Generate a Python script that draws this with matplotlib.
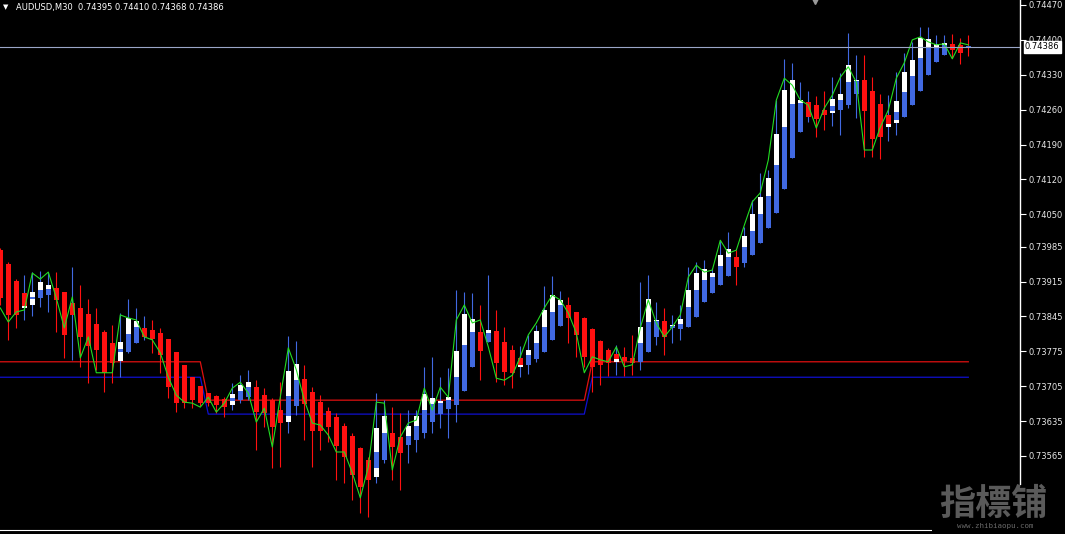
import numpy as np
import matplotlib.pyplot as plt

# AUDUSD M30 - heiken ashi bars over price candles
title = "AUDUSD,M30  0.74395 0.74410 0.74368 0.74386"
last_price = 0.74386

hi = [0.73982, 0.73954, 0.73920, 0.73928, 0.73934, 0.73936, 0.73934, 0.73934, 0.73894, 0.73944,
      0.73908, 0.73880, 0.73862, 0.73818, 0.73828, 0.73852, 0.73880, 0.73862, 0.73846, 0.73838,
      0.73822, 0.73800, 0.73774, 0.73748, 0.73723, 0.73705, 0.73691, 0.73687, 0.73683, 0.73711,
      0.73727, 0.73738, 0.73717, 0.73701, 0.73681, 0.73713, 0.73806, 0.73796, 0.73748, 0.73703,
      0.73687, 0.73663, 0.73651, 0.73631, 0.73611, 0.73583, 0.73563, 0.73691, 0.73677, 0.73663,
      0.73651, 0.73657, 0.73657, 0.73744, 0.73764, 0.73723, 0.73742, 0.73898, 0.73894, 0.73892,
      0.73868, 0.73928, 0.73858, 0.73824, 0.73788, 0.73786, 0.73808, 0.73828, 0.73906, 0.73926,
      0.73896, 0.73884, 0.73854, 0.73844, 0.73822, 0.73798, 0.73782, 0.73788, 0.73784, 0.73808,
      0.73914, 0.73928, 0.73874, 0.73862, 0.73848, 0.73868, 0.73944, 0.73954, 0.73958, 0.73942,
      0.73998, 0.74014, 0.73978, 0.74024, 0.74079, 0.74133, 0.74139, 0.74279, 0.74362, 0.74354,
      0.74315, 0.74297, 0.74287, 0.74297, 0.74325, 0.74334, 0.74414, 0.74370, 0.74370, 0.74325,
      0.74291, 0.74289, 0.74336, 0.74374, 0.74396, 0.74426, 0.74426, 0.74410, 0.74410, 0.74412,
      0.74404, 0.74410]

lo = [0.73868, 0.73798, 0.73822, 0.73838, 0.73846, 0.73864, 0.73854, 0.73814, 0.73762, 0.73758,
      0.73744, 0.73711, 0.73738, 0.73693, 0.73711, 0.73723, 0.73772, 0.73792, 0.73798, 0.73772,
      0.73732, 0.73681, 0.73653, 0.73661, 0.73661, 0.73665, 0.73665, 0.73651, 0.73643, 0.73657,
      0.73671, 0.73677, 0.73577, 0.73623, 0.73541, 0.73543, 0.73611, 0.73647, 0.73597, 0.73543,
      0.73577, 0.73593, 0.73517, 0.73511, 0.73477, 0.73451, 0.73443, 0.73511, 0.73551, 0.73517,
      0.73497, 0.73551, 0.73573, 0.73601, 0.73611, 0.73621, 0.73601, 0.73633, 0.73695, 0.73744,
      0.73717, 0.73794, 0.73713, 0.73707, 0.73701, 0.73723, 0.73730, 0.73754, 0.73774, 0.73798,
      0.73826, 0.73792, 0.73764, 0.73744, 0.73693, 0.73707, 0.73726, 0.73727, 0.73726, 0.73727,
      0.73738, 0.73774, 0.73788, 0.73768, 0.73792, 0.73798, 0.73824, 0.73844, 0.73874, 0.73892,
      0.73908, 0.73926, 0.73908, 0.73944, 0.73968, 0.73992, 0.74022, 0.74053, 0.74101, 0.74163,
      0.74215, 0.74235, 0.74205, 0.74219, 0.74227, 0.74209, 0.74263, 0.74243, 0.74165, 0.74165,
      0.74161, 0.74197, 0.74209, 0.74245, 0.74269, 0.74297, 0.74329, 0.74356, 0.74370, 0.74364,
      0.74352, 0.74368]

ha_open = [0.73978, 0.73950, 0.73916, 0.73892, 0.73880, 0.73882, 0.73888, 0.73902, 0.73894, 0.73872,
           0.73862, 0.73850, 0.73830, 0.73814, 0.73792, 0.73774, 0.73774, 0.73792, 0.73822, 0.73818,
           0.73812, 0.73800, 0.73774, 0.73748, 0.73723, 0.73705, 0.73691, 0.73685, 0.73679, 0.73675,
           0.73677, 0.73683, 0.73703, 0.73687, 0.73677, 0.73657, 0.73645, 0.73665, 0.73719, 0.73693,
           0.73673, 0.73655, 0.73643, 0.73625, 0.73605, 0.73581, 0.73557, 0.73541, 0.73557, 0.73611,
           0.73603, 0.73587, 0.73597, 0.73611, 0.73633, 0.73649, 0.73659, 0.73667, 0.73695, 0.73744,
           0.73814, 0.73794, 0.73816, 0.73794, 0.73778, 0.73762, 0.73748, 0.73760, 0.73774, 0.73798,
           0.73826, 0.73868, 0.73854, 0.73842, 0.73820, 0.73796, 0.73778, 0.73770, 0.73764, 0.73762,
           0.73754, 0.73774, 0.73804, 0.73836, 0.73822, 0.73820, 0.73824, 0.73844, 0.73874, 0.73892,
           0.73908, 0.73926, 0.73964, 0.73952, 0.73968, 0.73992, 0.74022, 0.74053, 0.74101, 0.74163,
           0.74215, 0.74275, 0.74269, 0.74259, 0.74257, 0.74259, 0.74269, 0.74291, 0.74319, 0.74297,
           0.74271, 0.74249, 0.74239, 0.74245, 0.74269, 0.74297, 0.74329, 0.74356, 0.74370, 0.74392,
           0.74390, 0.74384]

ha_close = [0.73882, 0.73848, 0.73848, 0.73866, 0.73884, 0.73898, 0.73900, 0.73878, 0.73808, 0.73848,
            0.73804, 0.73786, 0.73778, 0.73732, 0.73752, 0.73780, 0.73810, 0.73824, 0.73804, 0.73800,
            0.73768, 0.73703, 0.73671, 0.73671, 0.73677, 0.73671, 0.73671, 0.73667, 0.73663, 0.73681,
            0.73695, 0.73703, 0.73653, 0.73651, 0.73623, 0.73631, 0.73685, 0.73717, 0.73669, 0.73615,
            0.73615, 0.73623, 0.73585, 0.73563, 0.73527, 0.73503, 0.73517, 0.73573, 0.73611, 0.73583,
            0.73571, 0.73605, 0.73625, 0.73657, 0.73669, 0.73671, 0.73677, 0.73723, 0.73788, 0.73814,
            0.73776, 0.73812, 0.73752, 0.73734, 0.73732, 0.73748, 0.73768, 0.73792, 0.73824, 0.73854,
            0.73868, 0.73842, 0.73808, 0.73764, 0.73744, 0.73748, 0.73752, 0.73760, 0.73756, 0.73752,
            0.73792, 0.73834, 0.73836, 0.73804, 0.73826, 0.73830, 0.73864, 0.73898, 0.73918, 0.73924,
            0.73946, 0.73964, 0.73944, 0.73984, 0.74016, 0.74051, 0.74087, 0.74149, 0.74225, 0.74271,
            0.74273, 0.74245, 0.74241, 0.74249, 0.74267, 0.74279, 0.74315, 0.74317, 0.74257, 0.74201,
            0.74205, 0.74231, 0.74255, 0.74295, 0.74327, 0.74364, 0.74384, 0.74386, 0.74390, 0.74380,
            0.74374, 0.74388]

op = [0.73978, 0.73950, 0.73916, 0.73862, 0.73868, 0.73882, 0.73888, 0.73902, 0.73894, 0.73854,
      0.73862, 0.73850, 0.73830, 0.73814, 0.73792, 0.73756, 0.73774, 0.73792, 0.73806, 0.73818,
      0.73812, 0.73800, 0.73774, 0.73748, 0.73723, 0.73705, 0.73691, 0.73685, 0.73679, 0.73667,
      0.73677, 0.73683, 0.73703, 0.73687, 0.73677, 0.73657, 0.73633, 0.73665, 0.73719, 0.73693,
      0.73673, 0.73655, 0.73643, 0.73625, 0.73605, 0.73581, 0.73557, 0.73523, 0.73557, 0.73611,
      0.73603, 0.73587, 0.73597, 0.73611, 0.73633, 0.73649, 0.73659, 0.73667, 0.73695, 0.73744,
      0.73814, 0.73794, 0.73816, 0.73794, 0.73778, 0.73744, 0.73748, 0.73760, 0.73774, 0.73798,
      0.73826, 0.73868, 0.73854, 0.73842, 0.73820, 0.73796, 0.73778, 0.73754, 0.73764, 0.73762,
      0.73754, 0.73774, 0.73804, 0.73836, 0.73822, 0.73820, 0.73824, 0.73844, 0.73874, 0.73892,
      0.73908, 0.73926, 0.73964, 0.73952, 0.73968, 0.73992, 0.74022, 0.74053, 0.74101, 0.74163,
      0.74215, 0.74255, 0.74269, 0.74259, 0.74253, 0.74259, 0.74269, 0.74291, 0.74319, 0.74297,
      0.74271, 0.74225, 0.74233, 0.74245, 0.74269, 0.74297, 0.74329, 0.74356, 0.74370, 0.74392,
      0.74390, 0.74395]

cl = [0.73882, 0.73848, 0.73848, 0.73878, 0.73894, 0.73914, 0.73908, 0.73878, 0.73808, 0.73868,
      0.73804, 0.73786, 0.73778, 0.73732, 0.73752, 0.73794, 0.73842, 0.73836, 0.73818, 0.73800,
      0.73768, 0.73703, 0.73671, 0.73671, 0.73677, 0.73671, 0.73671, 0.73667, 0.73663, 0.73689,
      0.73707, 0.73713, 0.73653, 0.73651, 0.73623, 0.73631, 0.73736, 0.73750, 0.73669, 0.73615,
      0.73615, 0.73623, 0.73585, 0.73563, 0.73527, 0.73503, 0.73517, 0.73621, 0.73645, 0.73583,
      0.73571, 0.73625, 0.73645, 0.73689, 0.73681, 0.73675, 0.73683, 0.73776, 0.73850, 0.73840,
      0.73776, 0.73818, 0.73752, 0.73734, 0.73732, 0.73758, 0.73778, 0.73816, 0.73858, 0.73888,
      0.73878, 0.73842, 0.73808, 0.73764, 0.73744, 0.73748, 0.73752, 0.73766, 0.73756, 0.73752,
      0.73824, 0.73880, 0.73838, 0.73804, 0.73828, 0.73840, 0.73898, 0.73932, 0.73940, 0.73932,
      0.73968, 0.73980, 0.73944, 0.74006, 0.74051, 0.74085, 0.74123, 0.74211, 0.74299, 0.74319,
      0.74279, 0.74269, 0.74241, 0.74249, 0.74281, 0.74291, 0.74350, 0.74319, 0.74257, 0.74201,
      0.74205, 0.74243, 0.74277, 0.74336, 0.74360, 0.74404, 0.74402, 0.74392, 0.74394, 0.74380,
      0.74374, 0.74386]

zigzag = [0.73862, 0.73834, 0.73854, 0.73858, 0.73932, 0.73920, 0.73934, 0.73882, 0.73822, 0.73884,
          0.73762, 0.73804, 0.73732, 0.73732, 0.73732, 0.73848, 0.73842, 0.73838, 0.73804, 0.73798,
          0.73772, 0.73723, 0.73687, 0.73673, 0.73671, 0.73663, 0.73683, 0.73653, 0.73671, 0.73701,
          0.73713, 0.73691, 0.73633, 0.73661, 0.73583, 0.73683, 0.73782, 0.73738, 0.73677, 0.73631,
          0.73627, 0.73607, 0.73573, 0.73573, 0.73531, 0.73481, 0.73543, 0.73673, 0.73671, 0.73537,
          0.73603, 0.73631, 0.73637, 0.73701, 0.73657, 0.73703, 0.73683, 0.73838, 0.73868, 0.73832,
          0.73838, 0.73784, 0.73721, 0.73717, 0.73727, 0.73764, 0.73808, 0.73832, 0.73862, 0.73888,
          0.73878, 0.73852, 0.73812, 0.73732, 0.73764, 0.73758, 0.73754, 0.73784, 0.73744, 0.73748,
          0.73822, 0.73878, 0.73832, 0.73804, 0.73824, 0.73848, 0.73924, 0.73948, 0.73934, 0.73938,
          0.73998, 0.73972, 0.73978, 0.74028, 0.74075, 0.74093, 0.74159, 0.74279, 0.74323, 0.74309,
          0.74279, 0.74269, 0.74223, 0.74263, 0.74289, 0.74325, 0.74346, 0.74315, 0.74179, 0.74179,
          0.74225, 0.74259, 0.74323, 0.74354, 0.74400, 0.74406, 0.74396, 0.74390, 0.74392, 0.74362,
          0.74394, 0.74390]

# channel levels (upper red / lower blue), they step at bar 26 and bar 74
red_level = [0.73754] * 26 + [0.73677] * 48 + [0.73754] * 48
blue_level = [0.73723] * 26 + [0.73649] * 48 + [0.73723] * 48

price_ticks = [0.74470, 0.74400, 0.74330, 0.74260, 0.74190, 0.74120, 0.74050,
               0.73985, 0.73915, 0.73845, 0.73775, 0.73705, 0.73635, 0.73565]

W, H = 1065, 534
x = np.arange(len(hi))
hi, lo = np.array(hi), np.array(lo)
ha_open, ha_close = np.array(ha_open), np.array(ha_close)
op, cl = np.array(op), np.array(cl)

fig = plt.figure(figsize=(W / 100, H / 100), dpi=100)
fig.patch.set_facecolor('black')
ax = fig.add_axes([0, 0, 1020 / W, 1])
ax.set_facecolor('black')

px = 0.000020067  # price per pixel
ax.set_ylim(0.74480 - H * px, 0.74480)
ax.set_xlim(-0.3 / 8, 127.5 - 0.3 / 8)

RED = '#ff1010'
BLUE = '#4169e1'

# levels
ax.plot(x, red_level, color='#e01010', lw=0.9, zorder=1)
ax.plot(x, blue_level, color='#1010d0', lw=0.9, zorder=1)

# wicks
bull_real = cl > op
wick_col = np.where(bull_real, BLUE, RED)
ax.vlines(x, lo, hi, colors=wick_col, lw=0.8, zorder=2)

# real candle bodies (bull ones are white, bear ones are black)
wb = 0.62
ax.bar(x[bull_real], (cl - op)[bull_real], bottom=op[bull_real], width=wb,
       color='white', linewidth=0, zorder=3)

# heiken ashi bodies
ha_bull = ha_close >= ha_open
ha_lo = np.minimum(ha_open, ha_close)
ha_h = np.maximum(np.abs(ha_close - ha_open), 0.4 * px)
ax.bar(x, ha_h, bottom=ha_lo, width=wb, color=np.where(ha_bull, BLUE, RED),
       linewidth=0, zorder=4)

# zigzag line
ax.plot(x, zigzag, color='#22dd22', lw=0.8, zorder=5)

# last price line
ax.axhline(last_price, color='#9aa6c8', lw=0.8, zorder=6)

# right price scale
for s in ['left', 'top', 'bottom']:
    ax.spines[s].set_visible(False)
ax.spines['right'].set_color('white')
ax.spines['right'].set_linewidth(1)
ax.set_xticks([])
ax.yaxis.tick_right()
ax.set_yticks(price_ticks)
ax.set_yticklabels(['%.5f' % t for t in price_ticks])
ax.tick_params(axis='y', colors='white', length=4, width=0.8, pad=2,
               labelsize=6.0, labelcolor='#e8e8e8')
ax.annotate('%.5f' % last_price, xy=(1, last_price), xycoords=('axes fraction', 'data'),
            xytext=(3.5, 0), textcoords='offset points', va='center', ha='left',
            fontsize=6.0, color='black',
            bbox=dict(boxstyle='square,pad=0.15', fc='white', ec='white'), zorder=10)

# bottom border of the chart window
ax.axhline(0.74480 - 530 * px, color='white', lw=0.8, zorder=7)

# small grey marker at the top edge
ax.plot([101.8], [0.74480 - 1 * px], marker='v', ms=5, color='#9a9a9a',
        clip_on=False, zorder=8)

# header
fig.text(3 / W, 1 - 7 / H, '\u25bc', color='white', fontsize=5, va='center', ha='left')
fig.text(16 / W, 1 - 7.5 / H, title, color='white', fontsize=6.05, va='center', ha='left')

# watermark sits on its own black patch
fig.patches.append(plt.Rectangle((932 / W, 0), (W - 932) / W, 49 / H,
                                 transform=fig.transFigure, fc='black', ec='none',
                                 zorder=20))
fig.text(993 / W, 1 - 505 / H, '指標铺', family=['Noto Sans CJK SC', 'DejaVu Sans'],
         fontsize=26, fontweight='bold', color='#5a5a5a', va='center', ha='center',
         zorder=21)
fig.text(995 / W, 1 - 526 / H, 'www.zhibiaopu.com', family='DejaVu Sans Mono',
         fontsize=5.4, color='#6a6a6a', va='center', ha='center', zorder=21)

fig.savefig('out.png', dpi=100, facecolor='black')
